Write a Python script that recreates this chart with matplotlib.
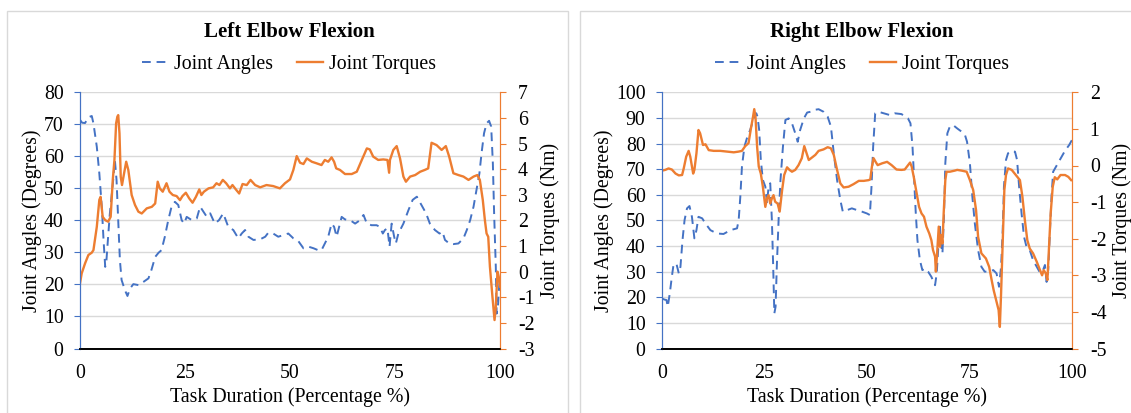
import matplotlib
matplotlib.use('Agg')
import matplotlib.pyplot as plt
from matplotlib.patches import Rectangle
from matplotlib.lines import Line2D

plt.rcParams['font.family'] = ['Liberation Serif', 'DejaVu Serif']
plt.rcParams['axes.unicode_minus'] = False

# Left elbow: joint angles (deg) and joint torques (Nm) over task duration (%)
left_angle_t = [0, 0.5, 1.2, 2.0, 2.8, 3.2, 4.0, 4.6, 5.2, 5.6, 6.0, 6.3, 6.7, 7.1, 7.9, 8.3, 8.7, 9.1,
                9.5, 9.9, 10.7, 11.3, 11.9, 12.7, 13.9, 15.1, 16.3, 17.0, 17.9, 18.7, 19.4, 20.2, 21.0,
                21.8, 22.6, 23.4, 24.2, 24.8, 25.4, 26.6, 27.8, 28.6, 29.4, 30.2, 31.0, 32.1, 33.1, 34.1,
                35.3, 36.5, 37.7, 38.5, 39.3, 40.1, 41.3, 42.9, 44.1, 44.8, 46.0, 47.2, 48.4, 49.6, 50.8,
                52.0, 53.2, 54.4, 55.6, 56.7, 57.5, 58.3, 59.1, 59.9, 60.5, 61.1, 61.7, 62.3, 63.1, 64.3,
                65.5, 66.7, 67.5, 68.3, 69.4, 70.6, 71.4, 72.1, 72.6, 73.2, 73.7, 74.2, 74.8, 75.2, 75.8,
                77.0, 78.2, 79.2, 80.2, 81.3, 82.4, 83.3, 84.5, 85.6, 86.3, 86.9, 87.9, 88.9, 90.1, 91.3,
                92.1, 92.9, 93.7, 94.4, 95.1, 95.6, 96.2, 96.8, 97.4, 97.9, 98.3, 98.6, 99.0, 99.2, 99.5,
                99.8, 100]
left_angle = [71.4, 70.5, 70.4, 72.2, 72.6, 70.3, 63, 54.7, 44, 34, 25.5, 27.6, 35, 42, 52.6, 58.9, 52.6, 40,
              27.6, 21.4, 18.2, 16.4, 18.7, 20.1, 19.8, 20.8, 21.9, 24.5, 28.6, 29.9, 30.7, 34.9, 40,
              44.3, 45.8, 44.8, 40.1, 39, 41.1, 40.1, 40.6, 44.3, 42.7, 41.1, 42.2, 39, 40.1, 42.2,
              38, 37, 34.4, 35.9, 37, 34.9, 33.9, 34.1, 34.9, 36.1, 35.9, 34.9, 35.4, 35.9, 34.4,
              33.5, 31.3, 31.8, 31.3, 30.7, 30.7, 32.8, 34.9, 39, 38, 34.9, 38, 41.1, 40.3, 40.1,
              39, 40.1, 41.7, 39, 38.5, 38.5, 38, 35.9, 37, 37.5, 31.8, 39, 34.9, 32.8, 35.9,
              39, 43.2, 46.4, 47.4, 44.8, 42.2, 39, 37, 35.9, 36.5, 33.9, 32.8, 32.6, 32.8, 34.4,
              37, 40.1, 44.3, 49.5, 54.7, 60.9, 67.2, 70.3, 71.1, 69.3, 57.8, 42.2, 25.5, 10.9, 13,
              19.3, 22]
left_torque_t = [0, 0.4, 1.2, 2.0, 2.8, 3.2, 4.0, 4.6, 4.9, 5.4, 6.0, 6.7, 7.3, 7.8, 8.2, 8.6, 8.9, 9.1,
                 9.4, 9.7, 10.0, 10.5, 11.0, 11.5, 12.3, 13.1, 13.9, 14.7, 15.9, 17.1, 17.9, 18.5, 19.0,
                 19.7, 20.6, 21.3, 22.1, 23.0, 23.8, 24.4, 25.2, 26.0, 26.8, 27.6, 28.4, 28.9, 29.5, 30.6,
                 31.7, 32.5, 33.2, 34.0, 34.8, 35.7, 36.3, 37.1, 37.9, 38.7, 39.7, 40.6, 41.7, 42.9, 44.4,
                 46.0, 47.6, 48.8, 50.0, 50.8, 51.6, 52.4, 53.2, 54.0, 55.2, 56.3, 57.5, 58.3, 59.1, 59.9,
                 60.5, 61.0, 61.9, 63.1, 64.7, 65.9, 67.1, 68.3, 69.0, 69.8, 71.0, 72.2, 73.2, 73.6, 73.8,
                 74.6, 75.4, 76.2, 77.0, 77.6, 78.6, 79.8, 81.0, 82.1, 82.9, 83.7, 84.9, 86.1, 87.1, 87.9,
                 88.9, 90.1, 91.3, 92.5, 93.7, 94.6, 95.2, 95.9, 96.4, 96.8, 97.2, 97.6, 98.2, 98.7, 99.0,
                 99.4, 99.7, 100]
left_torque = [-0.46, -0.07, 0.32, 0.65, 0.74, 0.84, 1.75, 2.8, 2.92, 2.14, 2.01, 1.95, 2.14, 3.58, 4.36, 5.79, 6.05, 6.11,
               5.4, 3.7, 3.38, 3.84, 4.29, 3.97, 2.99, 2.6, 2.34, 2.27, 2.47, 2.53, 2.66, 3.51, 3.25,
               3.12, 3.45, 3.12, 2.99, 2.95, 2.79, 2.95, 3.08, 2.86, 2.69, 2.92, 3.21, 2.99, 3.12, 3.25,
               3.29, 3.45, 3.38, 3.58, 3.45, 3.25, 3.38, 3.21, 3.05, 3.42, 3.38, 3.58, 3.38, 3.29, 3.38,
               3.34, 3.25, 3.45, 3.6, 3.97, 4.51, 4.25, 4.2, 4.42, 4.29, 4.23, 4.16, 4.36, 4.29, 4.46,
               4.29, 4.03, 3.97, 3.81, 3.81, 3.9, 4.36, 4.81, 4.77, 4.49, 4.36, 4.38, 4.36, 3.86, 4.36,
               4.75, 4.9, 4.42, 3.71, 3.51, 3.71, 3.77, 3.9, 3.97, 4.03, 5.03, 4.94, 4.75, 4.9, 4.49,
               3.84, 3.77, 3.71, 3.58, 3.71, 3.77, 3.58, 2.8, 2.01, 1.49, 1.36, 0.19, -0.98, -1.89, -1.37,
               0.0, -0.2, -0.59]

# Right elbow
right_angle_t = [0, 0.6, 1.1, 1.4, 1.9, 2.4, 2.8, 3.5, 4.1, 4.5, 5.0, 5.5, 6.1, 6.7, 7.3, 7.9, 8.4, 8.9,
                 9.8, 10.6, 11.8, 13.4, 15.0, 16.7, 18.3, 18.7, 19.1, 19.5, 20.1, 20.7, 21.5, 22.4, 23.0,
                 23.3, 23.7, 24.1, 24.6, 25.2, 25.6, 26.0, 26.4, 26.8, 27.1, 27.4, 27.7, 28.0, 28.5, 28.9,
                 29.5, 30.1, 30.9, 31.7, 32.5, 33.1, 33.7, 34.6, 35.4, 36.2, 37.0, 38.2, 39.4, 40.4, 41.2,
                 41.9, 42.7, 43.5, 44.1, 45.1, 46.3, 47.6, 48.8, 50.0, 50.7, 51.1, 51.5, 52.0, 52.8, 54.1,
                 55.6, 56.8, 58.4, 60.0, 60.6, 61.1, 61.5, 61.9, 62.3, 62.9, 63.5, 64.1, 64.9, 65.7, 66.6,
                 67.0, 67.4, 67.8, 68.0, 68.4, 68.8, 69.1, 69.6, 70.2, 71.0, 72.0, 73.1, 73.9, 74.4, 75.1,
                 75.7, 76.3, 77.1, 77.9, 78.7, 79.8, 80.8, 81.6, 82.2, 82.7, 83.1, 83.4, 83.9, 84.4, 85.3,
                 86.1, 86.6, 87.1, 87.7, 88.3, 88.9, 89.7, 90.5, 91.4, 92.2, 92.8, 93.4, 93.8, 94.2, 94.6,
                 95.0, 95.4, 96.1, 97.0, 98.3, 99.3, 100]
right_angle = [19.5, 19.1, 18.9, 16.3, 21.5, 28, 32.6, 33.2, 29.3, 31.9, 42.3, 50.1, 54.7, 55.6, 51.4, 43, 46.2, 51.4,
               50.8, 48.8, 46.2, 44.9, 44.7, 46.2, 46.9, 50.1, 59.2, 71, 78.8, 82, 85.3, 89.8, 91.8,
               90.5, 85.3, 73.6, 65.8, 63.2, 56.6, 63.2, 64.5, 50.1, 33.2, 13.7, 16.3, 31.9, 52.7, 65.8,
               78.8, 89.2, 89.8, 87.9, 84, 80.7, 85.3, 89.8, 92.1, 92.4, 93.1, 93.4, 92.4, 90.5, 86.6,
               76.2, 65.8, 57.9, 53.4, 54, 54.7, 54, 53.4, 52.7, 52.1, 63.2, 78.8, 91.8, 92.4, 91.8,
               91.1, 91.8, 91.5, 89.8, 87.9, 78.8, 65.8, 52.7, 42.3, 34.5, 30.6, 31.2, 30, 28, 24.7,
               29.3, 39.7, 47.5, 41, 37.1, 52.7, 72.3, 84, 86.6, 87.2, 85.9, 84.6, 83.3, 80.7, 72.3,
               59.2, 48.8, 38.4, 31.9, 30, 30, 30.6, 29.3, 24.1, 31.9, 46.2, 63.2, 73.6, 76.2, 77.2,
               76.8, 73.6, 63.2, 52.7, 43.6, 39.7, 38.4, 34.5, 31.9, 29.6, 30, 32.6, 26, 30.6, 44.9,
               59.2, 69, 71, 73.6, 77.2, 79.4, 81.4]
right_torque_t = [0, 0.8, 1.6, 2.4, 3.3, 4.1, 4.9, 5.3, 5.9, 6.5, 6.9, 7.6, 7.9, 8.4, 8.9, 9.3, 10.0, 10.6,
                  11.4, 12.6, 14.2, 15.9, 17.5, 18.7, 19.5, 20.3, 21.1, 21.7, 22.2, 22.5, 22.8, 23.2, 23.6,
                  24.1, 24.6, 25.2, 25.6, 26.0, 26.4, 26.8, 27.2, 27.6, 28.2, 28.7, 29.3, 29.8, 30.5, 31.1,
                  31.7, 32.5, 33.3, 34.1, 34.7, 35.4, 35.8, 36.6, 37.4, 38.2, 39.4, 40.4, 41.2, 41.9, 42.7,
                  43.5, 44.3, 45.5, 46.7, 48.0, 49.2, 50.4, 50.8, 51.2, 51.6, 52.1, 52.6, 53.7, 54.9, 56.0,
                  57.2, 58.4, 59.2, 60.0, 60.5, 60.9, 61.4, 62.1, 62.7, 63.3, 63.9, 64.5, 65.2, 65.7, 66.1,
                  66.6, 66.8, 67.1, 67.5, 67.8, 68.1, 68.4, 68.7, 69.1, 69.4, 70.2, 71.4, 72.0, 73.1, 74.3,
                  75.1, 75.9, 76.6, 77.1, 77.9, 79.0, 79.8, 80.4, 80.9, 81.6, 82.1, 82.4, 82.7, 83.1, 83.5,
                  83.9, 84.4, 85.3, 86.3, 87.3, 87.9, 88.5, 89.1, 89.7, 90.5, 91.4, 92.2, 92.7, 93.1, 93.6,
                  94.0, 94.4, 94.8, 95.3, 95.8, 96.4, 97.2, 98.3, 99.1, 99.8]
right_torque = [-0.14, -0.12, -0.08, -0.11, -0.22, -0.27, -0.26, -0.08, 0.24, 0.4, 0.24, -0.22, -0.12, 0.33, 0.97, 0.88, 0.56, 0.58,
                0.42, 0.4, 0.4, 0.38, 0.36, 0.38, 0.4, 0.53, 0.61, 1.02, 1.33, 1.54, 1.33, 0.51, -0.03,
                -0.22, -0.58, -1.13, -0.9, -0.81, -1.04, -0.9, -0.81, -0.99, -1.04, -1.26, -0.67, -0.26, -0.05, -0.12,
                -0.17, -0.12, 0.01, 0.2, 0.53, 0.29, 0.15, 0.22, 0.29, 0.4, 0.44, 0.5, 0.47, 0.29, -0.12,
                -0.49, -0.6, -0.58, -0.51, -0.42, -0.42, -0.4, -0.38, -0.03, 0.2, 0.1, 0.01, 0.06, 0.1, 0.01,
                -0.11, -0.12, -0.11, 0.01, 0.08, -0.03, -0.31, -0.76, -1.13, -1.31, -1.4, -1.67, -1.86, -2.04, -2.31,
                -2.49, -2.9, -2.4, -1.67, -2.22, -1.9, -2.13, -1.31, -0.4, -0.17, -0.17, -0.14, -0.12, -0.14, -0.17,
                -0.4, -0.67, -1.22, -1.95, -2.4, -2.54, -2.77, -3.13, -3.41, -3.72, -3.95, -4.41, -3.5, -2.04, -0.67,
                -0.26, -0.08, -0.12, -0.26, -0.4, -0.85, -1.49, -2.04, -2.27, -2.4, -2.63, -2.86, -3.0, -2.86, -2.95,
                -3.13, -2.22, -1.31, -0.58, -0.32, -0.38, -0.26, -0.26, -0.31, -0.4]

BLUE = '#4472C4'
ORANGE = '#ED7D31'
DASH = (0, (4.5, 3))
W, H = 1131, 413
FS = 14.3

fig = plt.figure(figsize=(W / 100, H / 100), dpi=100)
fig.patch.set_facecolor('white')

# chart area borders (as in the Excel export)
for x0, x1 in [(7, 568), (580, 1140)]:
    fig.add_artist(Rectangle((x0 / W, -0.05), (x1 - x0) / W, (H - 11) / H + 0.05,
                             transform=fig.transFigure, fill=False, edgecolor='#D9D9D9', lw=1))


def draw_panel(px0, px1, title, at, ang, tt, tor, alim, astep, tlim, legend_x):
    ax = fig.add_axes([px0 / W, (H - 348.5) / H, (px1 - px0) / W, 256.2 / H])
    ax2 = ax.twinx()

    ax.plot(at, ang, color=BLUE, lw=1.4, linestyle=DASH)
    ax2.plot(tt, tor, color=ORANGE, lw=1.7)

    ax.set_xlim(0, 100)
    ax.set_ylim(*alim)
    ax2.set_ylim(*tlim)
    ax.set_xticks([0, 25, 50, 75, 100])
    ax.set_yticks(range(alim[0], alim[1] + 1, astep))
    ax2.set_yticks(range(tlim[0], tlim[1] + 1))

    ax.grid(axis='y', color='#D9D9D9', lw=1)
    ax.set_axisbelow(True)

    for a in (ax, ax2):
        a.spines['top'].set_visible(False)
        a.spines['left'].set_color(BLUE)
        a.spines['right'].set_color(ORANGE)
        a.spines['bottom'].set_color('black')
        a.spines['bottom'].set_linewidth(1.2)
    ax.tick_params(axis='y', colors=BLUE, labelcolor='black', length=4.3, labelsize=FS, pad=7.5)
    ax2.tick_params(axis='y', colors=ORANGE, labelcolor='black', length=4.3, labelsize=FS, pad=8.5)
    ax.tick_params(axis='x', length=0, labelsize=FS, pad=11)

    ax.set_xlabel('Task Duration (Percentage %)', fontsize=FS, labelpad=3)
    ax.set_ylabel('Joint Angles (Degrees)', fontsize=FS, labelpad=1.5)
    ax2.set_ylabel('Joint Torques (Nm)', fontsize=FS, labelpad=4)

    fig.text(legend_x / W, (H - 32) / H, title, ha='center', va='center',
             fontsize=15, fontweight='bold')

    handles = [Line2D([], [], color=BLUE, lw=1.4, linestyle=DASH),
               Line2D([], [], color=ORANGE, lw=1.7)]
    fig.legend(handles, ['Joint Angles', 'Joint Torques'], loc='center',
               bbox_to_anchor=(legend_x / W, (H - 64) / H), ncol=2, frameon=False,
               fontsize=FS, handlelength=1.3, handletextpad=0.3, columnspacing=1.2)


draw_panel(80, 500, 'Left Elbow Flexion', left_angle_t, left_angle,
           left_torque_t, left_torque, (0, 80), 10, (-3, 7), 289)
draw_panel(662, 1072, 'Right Elbow Flexion', right_angle_t, right_angle,
           right_torque_t, right_torque, (0, 100), 10, (-5, 2), 862)

fig.savefig('out.png', dpi=100)
